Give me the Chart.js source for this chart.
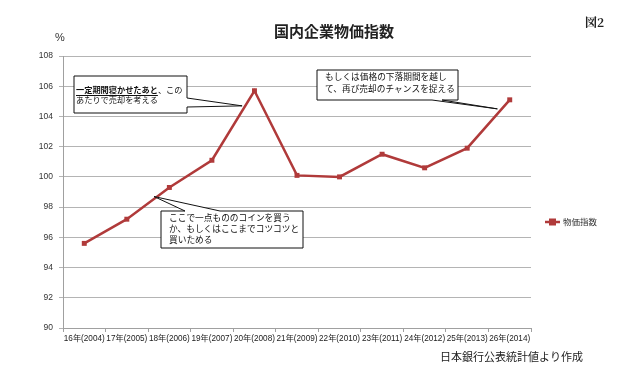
<!DOCTYPE html>
<html>
<head>
<meta charset="utf-8">
<script src="https://cdn.jsdelivr.net/npm/chart.js@4/dist/chart.umd.min.js"></script>
<style>
html,body{margin:0;padding:0;background:#fff;}
canvas{display:block;}
</style>
</head>
<body>
<canvas id="c" width="627" height="376"></canvas>
<script>
const categories = ["16年(2004)","17年(2005)","18年(2006)","19年(2007)","20年(2008)","21年(2009)","22年(2010)","23年(2011)","24年(2012)","25年(2013)","26年(2014)"];
const priceIndex = [95.6, 97.2, 99.3, 101.1, 105.7, 100.1, 100.0, 101.5, 100.6, 101.9, 105.1];
const yTicks = [90, 92, 94, 96, 98, 100, 102, 104, 106, 108];
const seriesName = "物価指数";
const titleText = "国内企業物価指数";
const figLabel = "図2";
const unitLabel = "%";
const sourceText = "日本銀行公表統計値より作成";

const JP = "'Noto Sans CJK JP', sans-serif";
const LAT = "'Liberation Sans', 'Noto Sans CJK JP', sans-serif";
const RED = '#b03a3a';

// callouts: box in pixels, tip anchored in data space (category index, value)
const callouts = [
  { box:[74,76,113,37], padX:2, fs:8.2, lines:[[{t:"一定期間寝かせたあと",b:true,u:true},{t:"、この"}],[{t:"あたりで売却を考える"}]],
    lineY:[90,100], side:'right', base:[98,107], tip:[3.71,104.7] },
  { box:[317,70,141,30], padX:8, fs:8.7, lines:[[{t:"もしくは価格の下落期間を越し"}],[{t:"て、再び売却のチャンスを捉える"}]],
    lineY:[77,89], side:'bottom', base:[432,442], tip:[9.71,104.5] },
  { box:[161,211,142,37], padX:8, fs:8.7, lines:[[{t:"ここで一点もののコインを買う"}],[{t:"か、もしくはここまでコツコツと"}],[{t:"買いためる"}]],
    lineY:[218,229,240], side:'top', base:[185,220], tip:[1.64,98.7] }
];

const deco = {
  id:'deco',
  afterDraw(chart){
    const ctx = chart.ctx;
    const xs = chart.scales.x, ys = chart.scales.y;
    ctx.save();
    ctx.fillStyle = '#222';
    ctx.textBaseline = 'middle';
    ctx.textAlign = 'center';
    ctx.font = "bold 15px " + JP;
    ctx.fillText(titleText, 334, 31);
    ctx.font = "bold 12px 'Noto Serif CJK JP', 'Liberation Serif', " + JP;
    ctx.textAlign = 'left';
    ctx.fillText(figLabel, 585, 22);
    ctx.font = "11px " + LAT;
    ctx.fillStyle = '#333';
    ctx.fillText(unitLabel, 55, 38);
    ctx.font = "11px " + JP;
    ctx.fillStyle = '#222';
    ctx.fillText(sourceText, 440, 357);
    // legend
    const ds = chart.data.datasets[0];
    ctx.strokeStyle = ds.borderColor; ctx.lineWidth = 2.5;
    ctx.beginPath(); ctx.moveTo(545,222); ctx.lineTo(560,222); ctx.stroke();
    ctx.fillStyle = ds.borderColor;
    ctx.fillRect(549,218.5,7,7);
    ctx.fillStyle = '#333';
    ctx.font = "8.5px " + JP;
    ctx.fillText(ds.label, 563, 222);
    // callouts
    callouts.forEach(c=>{
      const [bx,by,bw,bh] = c.box;
      const tx = xs.getPixelForValue(c.tip[0]);
      const ty = ys.getPixelForValue(c.tip[1]);
      ctx.beginPath();
      ctx.moveTo(bx,by);
      if(c.side==='top'){ ctx.lineTo(c.base[0],by); ctx.lineTo(tx,ty); ctx.lineTo(c.base[1],by); }
      ctx.lineTo(bx+bw,by);
      if(c.side==='right'){ ctx.lineTo(bx+bw,c.base[0]); ctx.lineTo(tx,ty); ctx.lineTo(bx+bw,c.base[1]); }
      ctx.lineTo(bx+bw,by+bh);
      if(c.side==='bottom'){ ctx.lineTo(c.base[1],by+bh); ctx.lineTo(tx,ty); ctx.lineTo(c.base[0],by+bh); }
      ctx.lineTo(bx,by+bh);
      ctx.closePath();
      ctx.fillStyle = '#fff'; ctx.fill();
      ctx.strokeStyle = '#111'; ctx.lineWidth = 1; ctx.stroke();
      ctx.fillStyle = '#111';
      ctx.textAlign = 'left'; ctx.textBaseline = 'middle';
      c.lines.forEach((ln,i)=>{
        let x = bx+c.padX;
        const y = c.lineY[i];
        ln.forEach(seg=>{
          ctx.font = (seg.b?'bold ':'') + c.fs + "px " + JP;
          ctx.fillText(seg.t, x, y);
          const w = ctx.measureText(seg.t).width;
          if(seg.u){ ctx.fillRect(x, y+5, w, 1); }
          x += w;
        });
      });
    });
    ctx.restore();
  }
};

new Chart(document.getElementById('c'), {
  type:'line',
  data:{
    labels: categories,
    datasets:[{
      label: seriesName,
      data: priceIndex,
      borderColor: RED,
      backgroundColor: RED,
      borderWidth: 2.5,
      pointStyle: 'rect',
      pointRadius: 3.5,
      pointBorderWidth: 0,
      tension: 0
    }]
  },
  options:{
    responsive:false,
    animation:false,
    devicePixelRatio:1,
    layout:{ padding:{ top:56, right:96, left:0, bottom:0 } },
    plugins:{ legend:{display:false}, title:{display:false}, tooltip:{enabled:false} },
    scales:{
      x:{
        offset:true,
        grid:{ drawOnChartArea:false, drawTicks:true, tickLength:4, color:'#a0a0a0', offset:true },
        border:{ color:'#a0a0a0' },
        ticks:{ font:{ size:8.2, family:LAT }, color:'#222', maxRotation:0, minRotation:0, autoSkip:false, padding:2 },
        afterFit(s){ s.height = 48; }
      },
      y:{
        min:90, max:108,
        afterBuildTicks(s){ s.ticks = yTicks.map(v=>({value:v})); },
        grid:{ color:'#b4b4b4', tickLength:4 },
        border:{ color:'#a0a0a0' },
        ticks:{ font:{ size:8.5, family:LAT }, color:'#333', padding:6 },
        afterFit(s){ s.width = 63; }
      }
    }
  },
  plugins:[deco]
});
</script>
</body>
</html>
